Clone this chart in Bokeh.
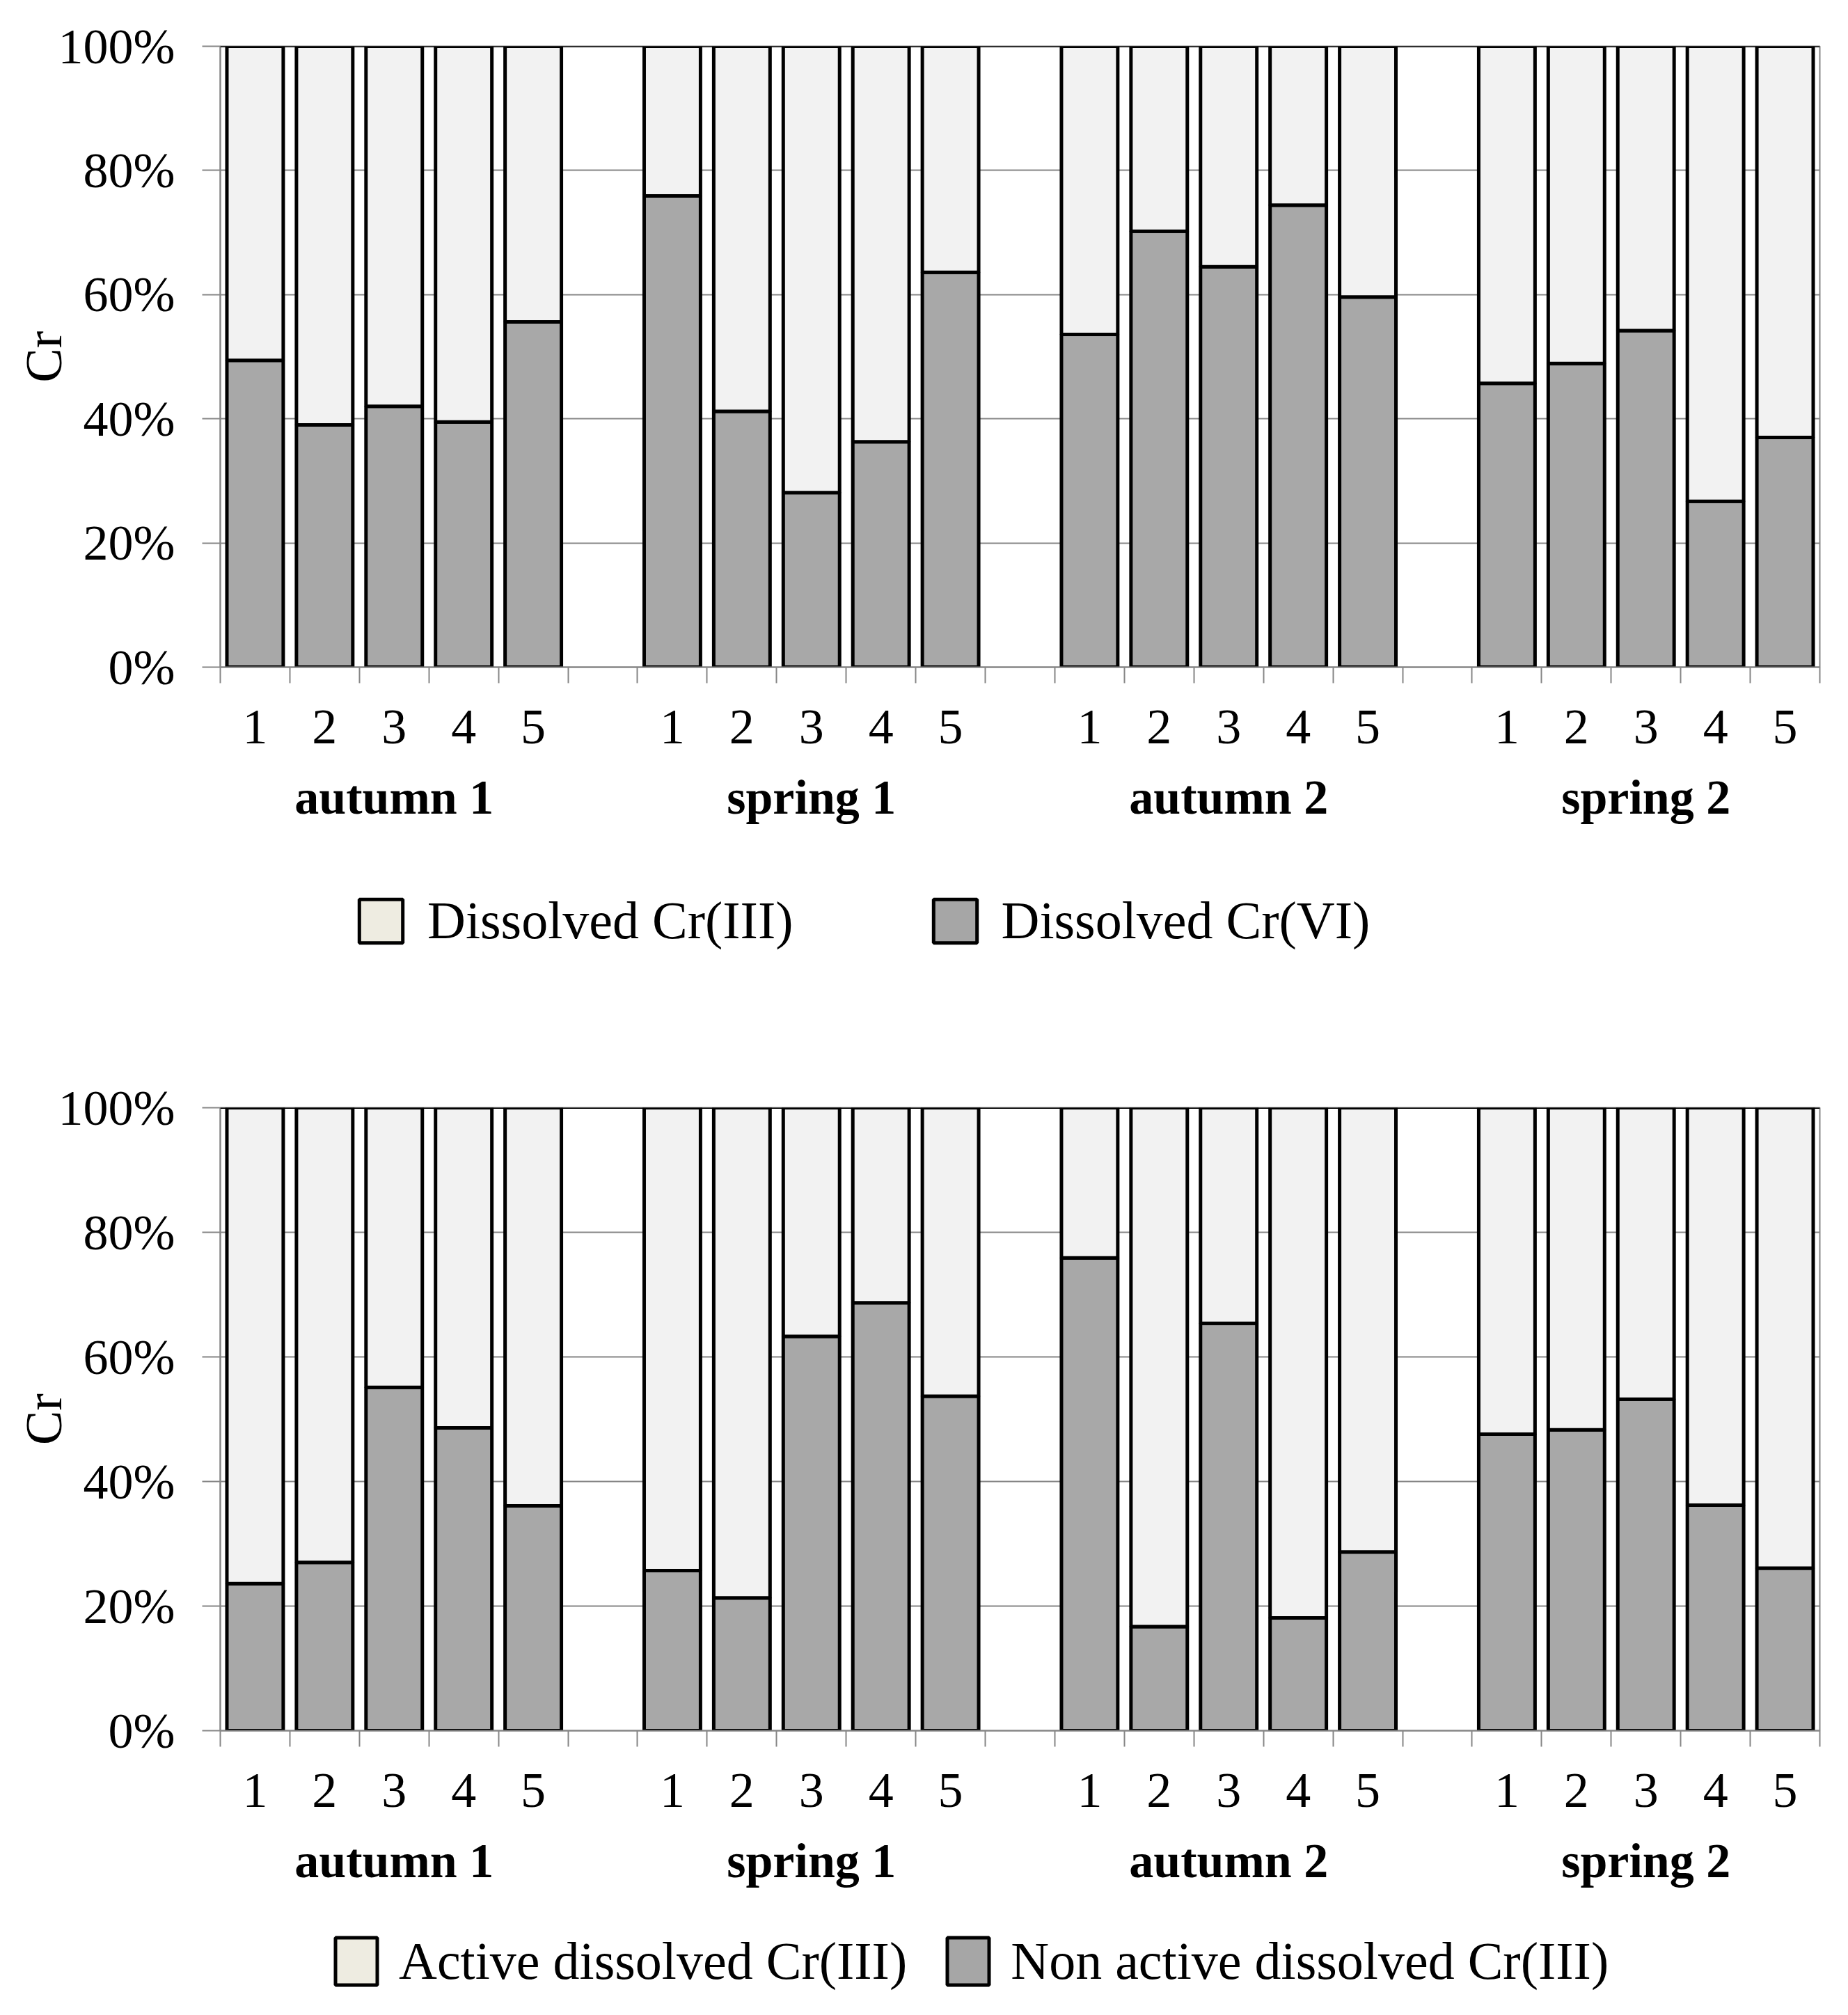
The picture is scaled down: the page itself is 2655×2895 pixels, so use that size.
from bokeh.plotting import figure
from bokeh.models import (ColumnDataSource, Range1d, FixedTicker, LinearAxis,
                          Legend, LegendItem, Span, PrintfTickFormatter)
from bokeh.layouts import column
from bokeh.embed import file_html
from bokeh.resources import INLINE

# ---------------- data ----------------
groups = ["autumn 1", "spring 1", "autumn 2", "spring 2"]
sites = ["1", "2", "3", "4", "5"]

# share of dissolved Cr(VI) in dissolved Cr (%), rest = dissolved Cr(III)
cr6_share = [49.4, 39.0, 42.0, 39.5, 55.6,
             75.9, 41.2, 28.1, 36.3, 63.6,
             53.6, 70.2, 64.5, 74.4, 59.6,
             45.7, 48.9, 54.2, 26.7, 37.0]

# share of non active dissolved Cr(III) (%), rest = active dissolved Cr(III)
nonactive_share = [23.6, 27.0, 55.1, 48.6, 36.1,
                   25.7, 21.3, 63.3, 68.7, 53.7,
                   75.9, 16.7, 65.4, 18.1, 28.7,
                   47.6, 48.3, 53.2, 36.2, 26.1]

top_labels = ["Dissolved Cr(III)", "Dissolved Cr(VI)"]
bottom_labels = ["Active dissolved Cr(III)", "Non active dissolved Cr(III)"]

y_ticks = [0, 20, 40, 60, 80, 100]

# ---------------- style ----------------
FONT = "Liberation Serif"
LIGHT = "#f2f2f2"
DARK = "#a8a8a8"
LEG_LIGHT = "#eeece1"
LEG_DARK = "#a6a6a6"
GRID = "#868686"
WIDTH = 2640


def make_chart(lower, height, top_border, bottom_border):
    n_sites = len(sites)
    xs, tick_labels = [], {}
    for g in range(len(groups)):
        for j in range(n_sites):
            slot = g * (n_sites + 1) + j
            xs.append(slot)
            tick_labels[slot] = sites[j]
    nslots = len(groups) * (n_sites + 1) - 1
    group_centers = [g * (n_sites + 1) + (n_sites - 1) / 2 for g in range(len(groups))]

    src = ColumnDataSource(dict(x=xs, lower=lower, full=[100] * len(lower)))

    p = figure(width=WIDTH, height=height,
               x_range=Range1d(-0.5, nslots - 0.5), y_range=Range1d(0, 100),
               x_axis_type=None, output_backend="svg", toolbar_location=None,
               min_border_left=316, min_border_right=26,
               min_border_top=top_border, min_border_bottom=bottom_border)
    p.background_fill_color = "white"
    p.border_fill_color = "white"
    p.outline_line_color = GRID
    p.outline_line_width = 2

    # bars
    p.vbar(x="x", bottom=0, top="lower", width=0.81, source=src,
           fill_color=DARK, line_color="black", line_width=5)
    p.vbar(x="x", bottom="lower", top="full", width=0.81, source=src,
           fill_color=LIGHT, line_color="black", line_width=5)

    p.add_layout(Span(location=100, dimension="width", line_color="black", line_width=3))

    # y axis
    ya = p.yaxis[0]
    ya.ticker = FixedTicker(ticks=y_ticks)
    ya.formatter = PrintfTickFormatter(format="%d%%")
    ya.major_label_text_font = FONT
    ya.major_label_text_font_size = "72px"
    ya.major_label_text_color = "black"
    ya.major_label_standoff = 39
    ya.major_tick_out = 26
    ya.major_tick_in = 0
    ya.major_tick_line_color = GRID
    ya.major_tick_line_width = 2
    ya.minor_tick_line_color = None
    ya.axis_line_color = GRID
    ya.axis_line_width = 2
    ya.axis_label = "Cr"
    ya.axis_label_text_font = FONT
    ya.axis_label_text_font_size = "74px"
    ya.axis_label_text_font_style = "normal"
    ya.axis_label_text_color = "black"
    ya.axis_label_standoff = -23

    p.ygrid.grid_line_color = GRID
    p.ygrid.grid_line_width = 2

    # x axis: site numbers, tick marks between categories
    xa = LinearAxis(ticker=FixedTicker(ticks=xs, minor_ticks=[k - 0.5 for k in range(nslots + 1)]),
                    major_label_overrides=tick_labels)
    xa.major_tick_line_color = None
    xa.major_tick_out = 0
    xa.major_tick_in = 0
    xa.minor_tick_out = 23
    xa.minor_tick_in = 0
    xa.minor_tick_line_color = GRID
    xa.minor_tick_line_width = 2
    xa.axis_line_color = GRID
    xa.axis_line_width = 2
    xa.major_label_text_font = FONT
    xa.major_label_text_font_size = "72px"
    xa.major_label_text_color = "black"
    xa.major_label_standoff = 39
    p.add_layout(xa, "below")

    # group labels
    ga = LinearAxis(ticker=FixedTicker(ticks=group_centers),
                    major_label_overrides={c: groups[i] for i, c in enumerate(group_centers)})
    ga.axis_line_color = None
    ga.major_tick_line_color = None
    ga.minor_tick_line_color = None
    ga.major_tick_out = 0
    ga.major_tick_in = 0
    ga.major_label_text_font = FONT
    ga.major_label_text_font_size = "70px"
    ga.major_label_text_font_style = "bold"
    ga.major_label_text_color = "black"
    ga.major_label_standoff = 36
    p.add_layout(ga, "below")
    return p


def make_legend(labels, height, loc, glyph_w, glyph_h, standoff, spacing):
    q = figure(width=WIDTH, height=height, x_range=Range1d(0, 1), y_range=Range1d(0, 1),
               x_axis_type=None, y_axis_type=None, output_backend="svg",
               toolbar_location=None, min_border=0)
    q.outline_line_color = None
    q.background_fill_color = "white"
    q.border_fill_color = "white"
    # swatch-only renderers: a zero-size bar, so only the legend shows them
    hidden = ColumnDataSource(dict(x=[0.5], top=[0.0]))
    r_light = q.vbar(x="x", top="top", bottom=0, width=0, source=hidden,
                     fill_color=LEG_LIGHT, line_color="black", line_width=5)
    r_dark = q.vbar(x="x", top="top", bottom=0, width=0, source=hidden,
                    fill_color=LEG_DARK, line_color="black", line_width=5)
    legend = Legend(items=[LegendItem(label=labels[0], renderers=[r_light]),
                           LegendItem(label=labels[1], renderers=[r_dark])],
                    orientation="horizontal", location=loc,
                    glyph_width=glyph_w, glyph_height=glyph_h,
                    label_standoff=standoff, spacing=spacing,
                    padding=0, margin=0, border_line_color=None,
                    background_fill_alpha=0,
                    label_text_font=FONT, label_text_font_size="76px",
                    label_text_color="black")
    q.add_layout(legend)
    return q


p1 = make_chart(cr6_share, 1208, 66, 250)
l1 = make_legend(top_labels, 260, (192, 102), 78, 78, 28, 193)
p2 = make_chart(nonactive_share, 1268, 123, 250)
l2 = make_legend(bottom_labels, 150, (158, 25), 75, 85, 24, 50)

layout = column(p1, l1, p2, l2, spacing=0)
open("out.html", "w").write(file_html(layout, INLINE))
